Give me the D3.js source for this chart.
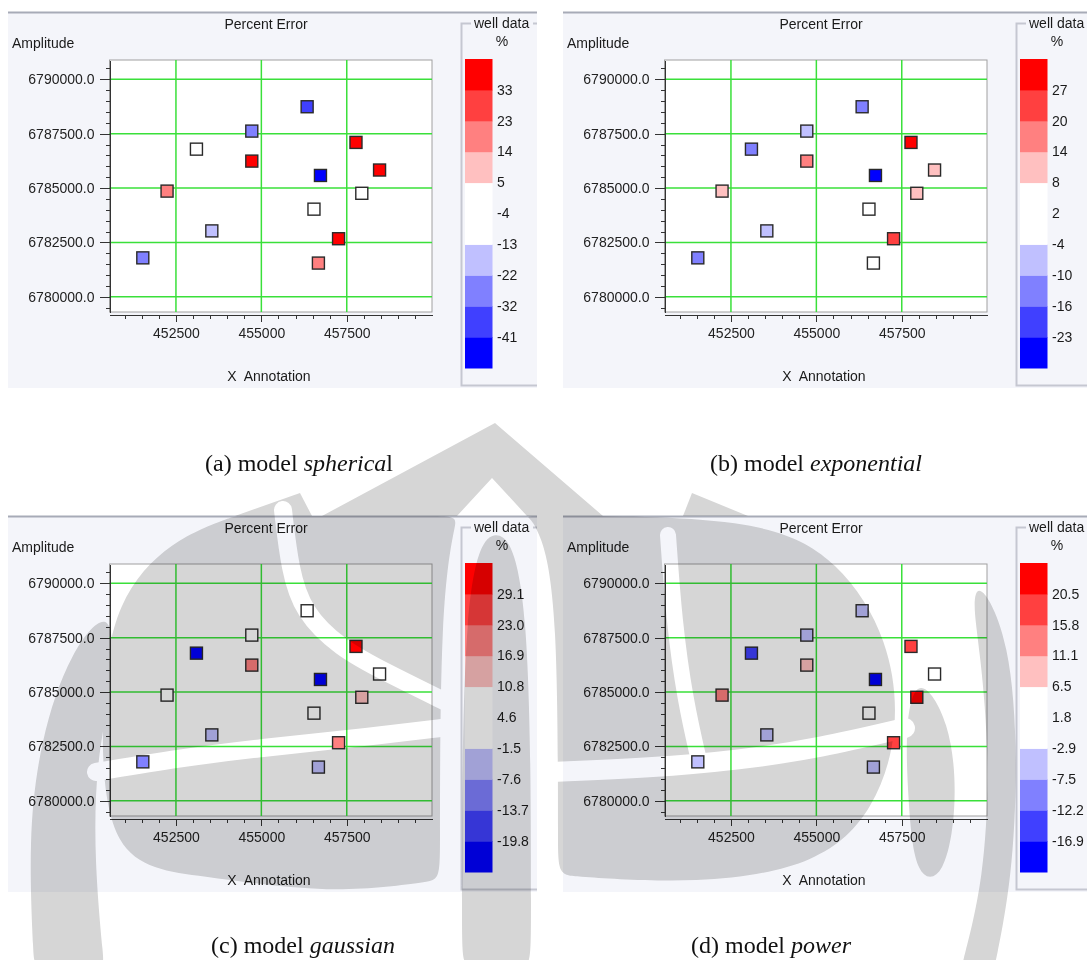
<!DOCTYPE html>
<html>
<head>
<meta charset="utf-8">
<title>Percent Error - variogram models</title>
<script src="https://d3js.org/d3.v7.min.js"></script>
<style>
  body, html { margin: 0; padding: 0; background: #ffffff; }
  svg { display: block; }
  text { font-family: "Liberation Sans", Arial, sans-serif; font-size: 14px; fill: #1a1a1a; }
  .cap { font-family: "Liberation Serif", "Times New Roman", serif; font-size: 24px; fill: #111; }
  .axis path, .axis line { stroke: #333; shape-rendering: crispEdges; }
  .axis text { font-size: 14px; fill: #222; }
</style>
</head>
<body>
<svg id="fig" width="1087" height="960"></svg>
<script>
// well locations (easting / northing)
const wellX = [456340, 454720, 453100, 454720, 457770, 458460, 456730, 452240, 457940, 456540, 453550, 457260, 451530, 456670];
const wellY = [6788740, 6787620, 6786790, 6786240, 6787100, 6785830, 6785580, 6784860, 6784760, 6784030, 6783030, 6782670, 6781790, 6781550];

// percent error at each well, one list per variogram model
const errSpherical   = [-36, -27, -2, 38, 37, 40, -46, 18, 1, -6, -17, 35, -26, 19];
const errExponential = [-13, -7, -13, 17, 30, 10, -26, 11, 9, 0, -8, 23, -12, 3];
const errGaussian    = [2, 3, -22, 19, 31, 5, -23, 1, 13, 0, -4, 18, -10, -5];
const errPower       = [-5, -6, -14, 8, 18, 3, -19, 13, 22, 0, -4, 17, -4, -6];

// legend class breaks (tick labels of the colour bar)
const breaksSpherical   = ["-41", "-32", "-22", "-13", "-4", "5", "14", "23", "33"];
const breaksExponential = ["-23", "-16", "-10", "-4", "2", "8", "14", "20", "27"];
const breaksGaussian    = ["-19.8", "-13.7", "-7.6", "-1.5", "4.6", "10.8", "16.9", "23.0", "29.1"];
const breaksPower       = ["-16.9", "-12.2", "-7.5", "-2.9", "1.8", "6.5", "11.1", "15.8", "20.5"];
const classColors = ["#0000ff", "#4040ff", "#8080ff", "#c0c0ff", "#ffffff", "#ffffff", "#ffc0c0", "#ff8080", "#ff4040", "#ff0000"];

// axis ticks
const xMajor = [452500, 455000, 457500];
const yMajor = [6780000, 6782500, 6785000, 6787500, 6790000];

const panels = [
  {errors: errSpherical,   breaks: breaksSpherical,   dx: 0,   dy: 0,   cap: ["(a) model ", "spherica", "l"], capX: 299, capY: 471},
  {errors: errExponential, breaks: breaksExponential, dx: 555, dy: 0,   cap: ["(b) model ", "exponential", ""], capX: 816, capY: 471},
  {errors: errGaussian,    breaks: breaksGaussian,    dx: 0,   dy: 504, cap: ["(c) model ", "gaussian", ""], capX: 303, capY: 953},
  {errors: errPower,       breaks: breaksPower,       dx: 555, dy: 504, cap: ["(d) model ", "power", ""], capX: 771, capY: 953}
];

const svg = d3.select("#fig");

// plot frame inside one panel
const pl = 109.5, pr = 432, pt = 60, pb = 312;

const x = d3.scaleLinear().domain([450555, 459995]).range([pl, pr]);
const y = d3.scaleLinear().domain([6779300, 6790890]).range([pb, pt]);

const xMinor = d3.range(451000, 460000, 500).filter(v => !xMajor.includes(v));
const yMinor = d3.range(6779500, 6791000, 500).filter(v => !yMajor.includes(v));

panels.forEach(p => {
  const g = svg.append("g").attr("transform", `translate(${p.dx},${p.dy})`);

  // panel background and top rule
  g.append("rect").attr("x", 8).attr("y", 12).attr("width", 529 + (p.dx ? 10 : 0)).attr("height", 376)
    .attr("fill", "#f4f5fa");
  g.append("line").attr("x1", 8).attr("x2", 537 + (p.dx ? 10 : 0)).attr("y1", 12.5).attr("y2", 12.5)
    .attr("stroke", "#a7abb7").attr("stroke-width", 2);

  g.append("text").attr("x", 266).attr("y", 25).attr("text-anchor", "middle")
    .attr("dominant-baseline", "middle").text("Percent Error");
  g.append("text").attr("x", 12).attr("y", 44).attr("dominant-baseline", "middle").text("Amplitude");
  g.append("text").attr("x", 269).attr("y", 377).attr("text-anchor", "middle")
    .attr("dominant-baseline", "middle").style("white-space", "pre").text("X  Annotation");

  // plot area
  g.append("rect").attr("x", pl).attr("y", pt).attr("width", pr - pl).attr("height", pb - pt)
    .attr("fill", "#ffffff").attr("stroke", "#a0a0a0").attr("stroke-width", 1);

  // green grid
  const grid = g.append("g").attr("stroke", "#3ae03a").attr("stroke-width", 1.5);
  grid.selectAll(".gx").data(xMajor).join("line")
    .attr("x1", d => x(d)).attr("x2", d => x(d)).attr("y1", pt).attr("y2", pb);
  grid.selectAll(".gy").data(yMajor).join("line")
    .attr("x1", pl).attr("x2", pr).attr("y1", d => y(d)).attr("y2", d => y(d));

  // axes: minor ticks, then major ticks with labels
  g.append("g").attr("class", "axis").attr("transform", `translate(${pl},0)`)
    .call(d3.axisLeft(y).tickValues(yMinor).tickSize(4).tickSizeOuter(0).tickFormat(""));
  g.append("g").attr("class", "axis").attr("transform", `translate(${pl},0)`)
    .call(d3.axisLeft(y).tickValues(yMajor).tickSize(10).tickSizeOuter(0).tickPadding(5)
      .tickFormat(d3.format(".1f")));
  g.append("g").attr("class", "axis").attr("transform", `translate(0,${pb + 2.5})`)
    .call(d3.axisBottom(x).tickValues(xMinor).tickSize(4).tickSizeOuter(0).tickFormat(""));
  g.append("g").attr("class", "axis").attr("transform", `translate(0,${pb + 2.5})`)
    .call(d3.axisBottom(x).tickValues(xMajor).tickSize(7).tickSizeOuter(0).tickPadding(7)
      .tickFormat(d3.format("d")));

  // colour classes for this model
  const thresholds = p.breaks.map(Number);
  const color = d3.scaleThreshold().domain(thresholds).range(classColors);

  // well markers
  g.append("g").selectAll("rect").data(p.errors).join("rect")
    .attr("x", (d, i) => x(wellX[i]) - 6).attr("y", (d, i) => y(wellY[i]) - 6)
    .attr("width", 12).attr("height", 12)
    .attr("fill", d => color(d)).attr("stroke", "#2a2a2a").attr("stroke-width", 1.4);

  // legend group box
  const lg = g.append("g");
  lg.append("path")
    .attr("d", "M471,23.5 H461.5 V385.5 H537" + (p.dx ? "0" : ""))
    .attr("fill", "none").attr("stroke", "#c5c7d1").attr("stroke-width", 2);
  lg.append("line").attr("x1", 533).attr("x2", 537).attr("y1", 23.5).attr("y2", 23.5)
    .attr("stroke", "#c5c7d1").attr("stroke-width", 2);
  lg.append("text").attr("x", 474).attr("y", 24).attr("dominant-baseline", "middle").text("well data");
  lg.append("text").attr("x", 502).attr("y", 42).attr("text-anchor", "middle")
    .attr("dominant-baseline", "middle").text("%");

  // colour bar, highest class on top
  const bins = d3.range(classColors.length);
  const cb = d3.scaleBand().domain(bins.slice().reverse()).range([59, 368]).paddingInner(0);
  lg.selectAll(".bin").data(bins).join("rect")
    .attr("x", 465).attr("width", 27.5)
    .attr("y", d => cb(d)).attr("height", cb.bandwidth() + 0.5)
    .attr("fill", d => classColors[d]);
  lg.selectAll(".lab").data(p.breaks).join("text")
    .attr("x", 497).attr("y", (d, i) => cb(i) + 1)
    .attr("dominant-baseline", "middle").text(d => d);

  // caption below the panel (on the page, not in the panel)
  const cap = svg.append("text").attr("class", "cap")
    .attr("x", p.capX).attr("y", p.capY).attr("text-anchor", "middle");
  cap.append("tspan").text(p.cap[0]);
  cap.append("tspan").style("font-style", "italic").text(p.cap[1]);
  if (p.cap[2]) cap.append("tspan").text(p.cap[2]);
});

// ---- faint page watermark (university emblem), rough outline ----
const wm = svg.append("g").style("mix-blend-mode", "multiply").attr("pointer-events", "none");
const wmFill = "#d6d6d6";
const straight = d3.line();
const smoothClosed = d3.line().curve(d3.curveBasisClosed);
const smoothOpen = d3.line().curve(d3.curveBasis);

// pointed shapes with straight edges
const wmSharp = [
  [[495, 423], [322, 516], [457, 516], [492, 478], [527, 516], [603, 516]],
  [[300, 493], [235, 516], [312, 516]],
  [[692, 493], [683, 516], [748, 516]]
];
// rounded lobes (control polygons, smoothed inside their hull)
const wmLobes = [
  [[235, 516], [235, 516], [457, 516], [457, 516], [440, 600], [440, 880], [440, 880], [330, 895], [200, 875], [105, 865], [100, 700], [115, 600], [170, 540]],
  [[115, 600], [70, 650], [40, 740], [28, 840], [34, 965], [34, 965], [104, 965], [104, 965], [94, 860], [96, 760], [112, 690]],
  [[496, 518], [462, 570], [462, 965], [462, 965], [531, 965], [531, 965], [531, 570]],
  [[527, 516], [527, 516], [760, 516], [840, 560], [890, 640], [900, 730], [875, 810], [820, 865], [700, 885], [558, 875], [558, 875], [558, 600], [540, 530]],
  [[918, 672], [950, 720], [958, 800], [945, 880], [915, 880], [908, 800], [905, 720]],
  [[980, 580], [1010, 640], [1018, 760], [1012, 880], [995, 965], [995, 965], [962, 965], [962, 965], [984, 880], [990, 760], [980, 650], [972, 600]]
];
// white gaps cutting through the lobes
const wmGaps = [
  {w: 18, pts: [[283, 510], [290, 570], [303, 612], [340, 648], [385, 672], [450, 704]]},
  {w: 18, pts: [[96, 772], [180, 758], [260, 748], [340, 740], [450, 727]]},
  {w: 16, pts: [[668, 535], [674, 620], [685, 700], [700, 765]]},
  {w: 20, pts: [[552, 772], [650, 768], [740, 760], [820, 748], [905, 728]]}
];

wm.selectAll(".sharp").data(wmSharp).join("path")
  .attr("d", d => straight(d) + "Z").attr("fill", wmFill);
wm.selectAll(".lobe").data(wmLobes).join("path")
  .attr("d", d => smoothClosed(d)).attr("fill", wmFill);
wm.selectAll(".gap").data(wmGaps).join("path")
  .attr("d", d => smoothOpen(d.pts)).attr("fill", "none")
  .attr("stroke", "#ffffff").attr("stroke-width", d => d.w).attr("stroke-linecap", "round");
</script>
</body>
</html>
